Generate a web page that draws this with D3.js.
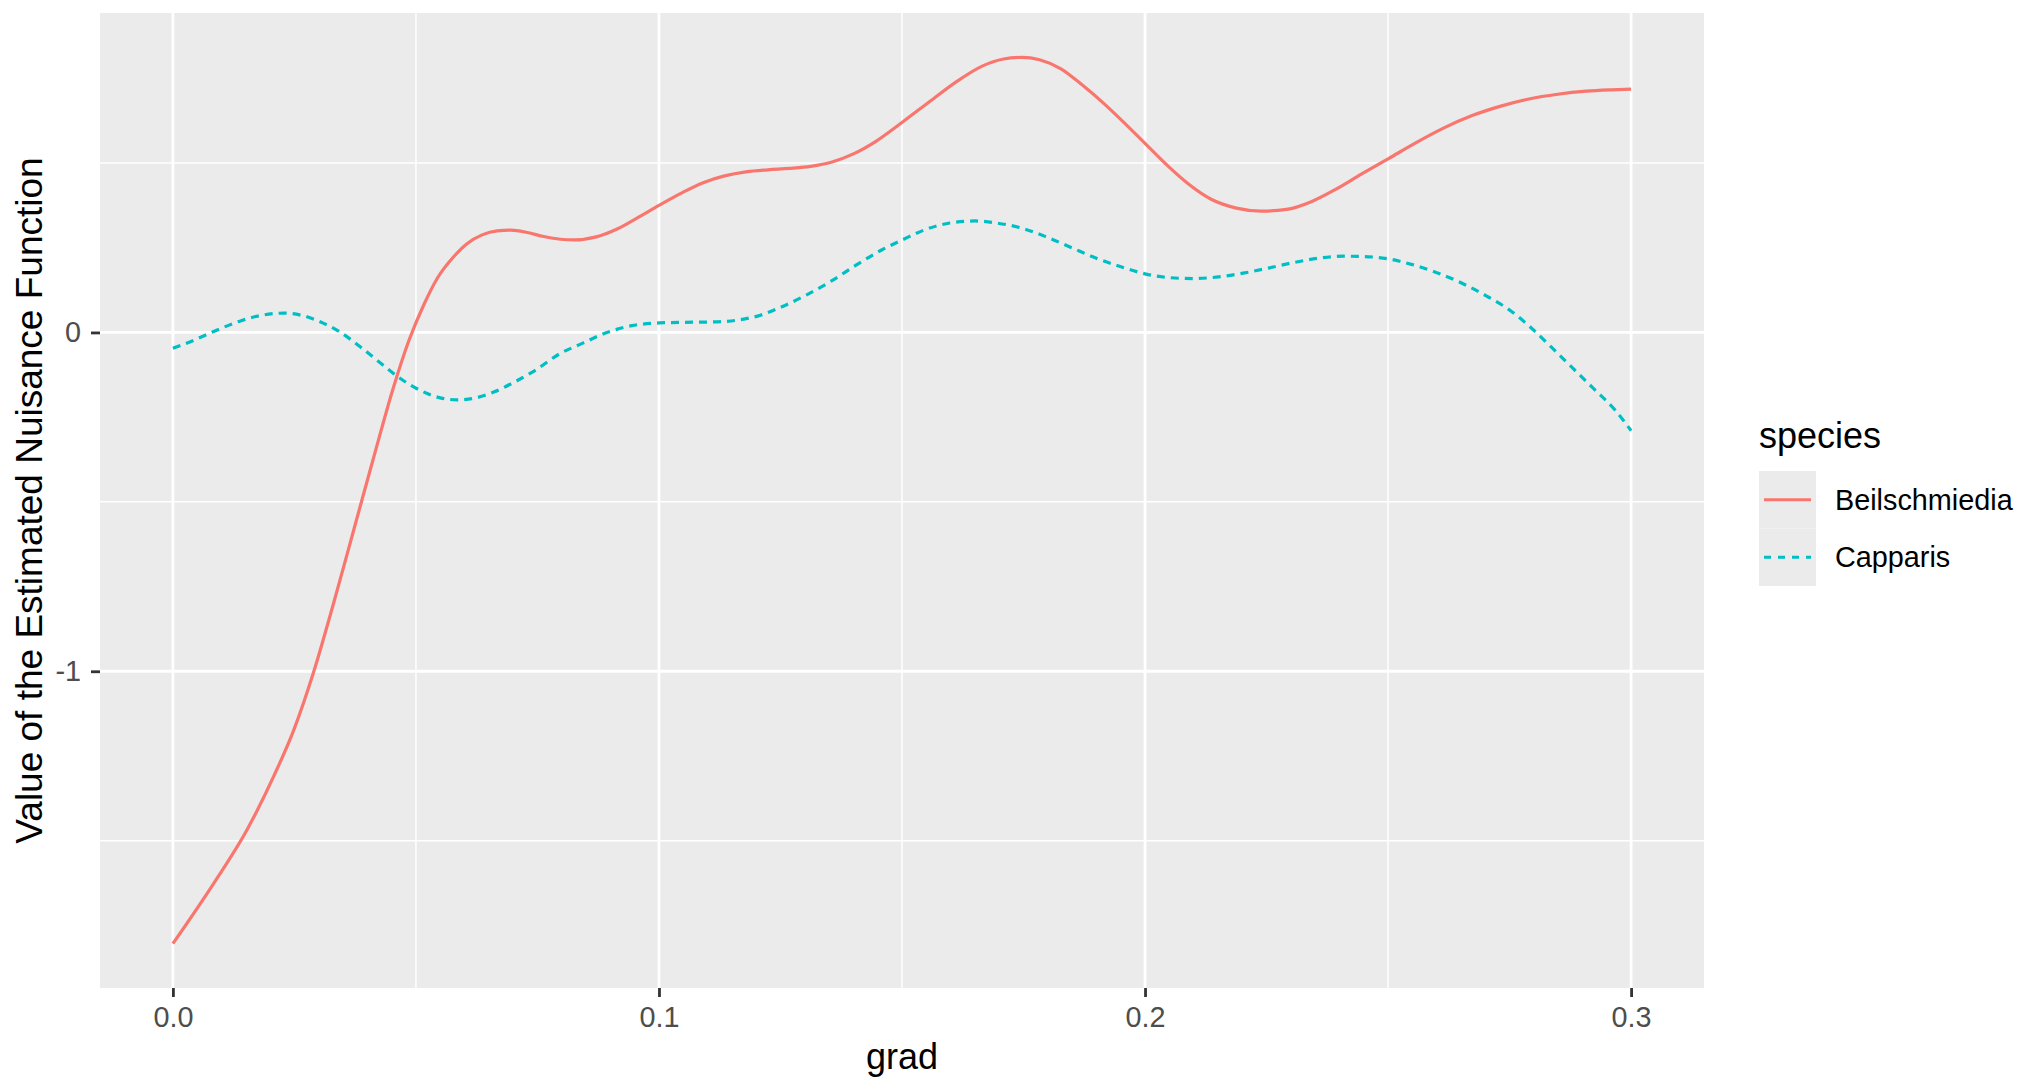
<!DOCTYPE html>
<html>
<head>
<meta charset="utf-8">
<script src="https://d3js.org/d3.v7.min.js"></script>
<style>
  body { margin: 0; background: #ffffff; }
  text { font-family: "Liberation Sans", Arial, Helvetica, sans-serif; }
</style>
</head>
<body>
<div id="my_dataviz"></div>
<script>
// values
var gradBeil = [0,0.0094,0.0152,0.0207,0.0248,0.029,0.0331,0.0372,0.0413,0.0454,0.0485,0.0516,0.0544,0.0578,0.0605,0.0636,0.0667,0.0695,0.0729,0.0763,0.0797,0.0826,0.0871,0.0915,0.0959,0.1,0.1047,0.1091,0.1135,0.1179,0.1224,0.1268,0.1312,0.1356,0.14,0.1444,0.1502,0.1562,0.1613,0.1665,0.1709,0.1746,0.1783,0.1827,0.1871,0.1915,0.1952,0.2,0.2048,0.2092,0.2136,0.2188,0.2239,0.2291,0.2342,0.2393,0.2445,0.2501,0.2555,0.2614,0.2673,0.2732,0.279,0.2849,0.2908,0.296,0.3];
var valBeil = [-1.804,-1.604,-1.469,-1.311,-1.176,-1.0,-0.797,-0.583,-0.369,-0.161,-0.026,0.081,0.16,0.224,0.262,0.288,0.300,0.302,0.295,0.283,0.275,0.273,0.282,0.306,0.341,0.375,0.412,0.442,0.462,0.474,0.48,0.484,0.49,0.503,0.527,0.562,0.622,0.687,0.741,0.786,0.807,0.812,0.805,0.778,0.73,0.676,0.626,0.558,0.49,0.435,0.393,0.367,0.358,0.363,0.386,0.423,0.467,0.513,0.558,0.603,0.64,0.668,0.689,0.703,0.712,0.716,0.718];

var gradCapp = [0,0.0043,0.0084,0.0139,0.018,0.0228,0.0269,0.0304,0.0345,0.0386,0.0427,0.0468,0.0509,0.055,0.0585,0.062,0.066,0.0702,0.0743,0.0797,0.0841,0.0893,0.0944,0.1,0.1054,0.1113,0.1165,0.1209,0.1253,0.1304,0.1356,0.1407,0.1459,0.1502,0.1547,0.1598,0.165,0.1694,0.1746,0.1797,0.1849,0.19,0.1952,0.2,0.2048,0.2099,0.2151,0.2202,0.2254,0.2305,0.2357,0.2408,0.2452,0.2501,0.2548,0.2599,0.2651,0.2702,0.2754,0.2791,0.2835,0.2879,0.2923,0.2967,0.3];
var valCapp = [-0.047,-0.023,0.003,0.034,0.05,0.057,0.049,0.031,0.0,-0.043,-0.09,-0.136,-0.171,-0.193,-0.199,-0.194,-0.176,-0.147,-0.114,-0.062,-0.033,0.0,0.02,0.028,0.03,0.031,0.037,0.051,0.076,0.111,0.153,0.2,0.244,0.274,0.303,0.323,0.329,0.323,0.308,0.282,0.25,0.219,0.193,0.173,0.162,0.159,0.164,0.175,0.19,0.206,0.219,0.225,0.224,0.217,0.201,0.177,0.146,0.108,0.062,0.018,-0.042,-0.104,-0.166,-0.229,-0.29];

var species = ["Beilschmiedia","Capparis"];
var colors = ["#F8766D","#00BFC4"];
var dashes = [null,"8,6"];

var xMajor = [0,0.1,0.2,0.3];
var xMinor = [0.05,0.15,0.25];
var yMajor = [-1,0];
var yMinor = [-1.5,-0.5,0.5];

function combine(x_arr,y_arr){
  var combined = [];
  for(let i = 0; i < x_arr.length; i++){
    combined.push([x_arr[i],y_arr[i]]);
  }
  return combined;
}
var series = [combine(gradBeil,valBeil), combine(gradCapp,valCapp)];

// ggplot style 5% expansion
function expand(ext){
  var d = (ext[1]-ext[0])*0.05;
  return [ext[0]-d, ext[1]+d];
}

var W = 2036, H = 1092;
var panel = {left: 100, right: 1704, top: 13, bottom: 988};

var svg = d3.select('#my_dataviz')
  .append('svg')
  .attr('width', W)
  .attr('height', H);

svg.append("rect")
  .attr("width", W).attr("height", H)
  .attr("fill", "#ffffff");

var x = d3.scaleLinear()
  .domain(expand(d3.extent(gradBeil.concat(gradCapp))))
  .range([panel.left, panel.right]);

var y = d3.scaleLinear()
  .domain(expand(d3.extent(valBeil.concat(valCapp))))
  .range([panel.bottom, panel.top]);

svg.append("rect")
  .attr("x", panel.left)
  .attr("y", panel.top)
  .attr("width", panel.right - panel.left)
  .attr("height", panel.bottom - panel.top)
  .attr("fill", "#EBEBEB");

// grid
var grid = svg.append("g");
grid.selectAll(".xminor").data(xMinor).enter().append("line")
  .attr("x1", d => x(d)).attr("x2", d => x(d))
  .attr("y1", panel.top).attr("y2", panel.bottom)
  .attr("stroke", "#ffffff").attr("stroke-width", 1.5);
grid.selectAll(".yminor").data(yMinor).enter().append("line")
  .attr("y1", d => y(d)).attr("y2", d => y(d))
  .attr("x1", panel.left).attr("x2", panel.right)
  .attr("stroke", "#ffffff").attr("stroke-width", 1.5);
grid.selectAll(".xmajor").data(xMajor).enter().append("line")
  .attr("x1", d => x(d)).attr("x2", d => x(d))
  .attr("y1", panel.top).attr("y2", panel.bottom)
  .attr("stroke", "#ffffff").attr("stroke-width", 2.8);
grid.selectAll(".ymajor").data(yMajor).enter().append("line")
  .attr("y1", d => y(d)).attr("y2", d => y(d))
  .attr("x1", panel.left).attr("x2", panel.right)
  .attr("stroke", "#ffffff").attr("stroke-width", 2.8);

// lines
var line = d3.line()
  .x(d => x(d[0]))
  .y(d => y(d[1]))
  .curve(d3.curveMonotoneX);

for(let i = 0; i < series.length; i++){
  svg.append("path")
    .attr("d", line(series[i]))
    .attr("fill", "none")
    .attr("stroke", colors[i])
    .attr("stroke-width", 3.2)
    .attr("stroke-dasharray", dashes[i]);
}

// axes
var xAxis = svg.append("g")
  .attr("transform", "translate(0," + panel.bottom + ")")
  .call(d3.axisBottom(x).tickValues(xMajor).tickFormat(d3.format(".1f")).tickSize(9).tickPadding(10));
var yAxis = svg.append("g")
  .attr("transform", "translate(" + panel.left + ",0)")
  .call(d3.axisLeft(y).tickValues(yMajor).tickFormat(d => String(d)).tickSize(9).tickPadding(10));

[xAxis, yAxis].forEach(function(a){
  a.select(".domain").remove();
  a.selectAll(".tick line").attr("stroke", "#333333").attr("stroke-width", 2.8);
  a.selectAll(".tick text")
    .attr("fill", "#4D4D4D")
    .style("font-size", "28.8px")
    .style("font-family", "'Liberation Sans', Arial, sans-serif");
});

svg.append("text")
  .attr("x", (panel.left + panel.right)/2)
  .attr("y", 1069)
  .attr("text-anchor", "middle")
  .style("font-size", "36px")
  .text("grad");

svg.append("text")
  .attr("transform", "translate(42," + ((panel.top + panel.bottom)/2) + ") rotate(-90)")
  .attr("text-anchor", "middle")
  .style("font-size", "37px")
  .text("Value of the Estimated Nuisance Function");

// legend
var legend = svg.append("g").attr("transform", "translate(1759,0)");
legend.append("text")
  .attr("x", 0).attr("y", 448)
  .style("font-size", "36px")
  .text("species");

var keyH = 57.5, keyTop = 471;
for(let i = 0; i < species.length; i++){
  var ky = keyTop + i*keyH;
  legend.append("rect")
    .attr("x", 0).attr("y", ky)
    .attr("width", 57).attr("height", keyH)
    .attr("fill", "#EBEBEB");
  legend.append("line")
    .attr("x1", 5).attr("x2", 52)
    .attr("y1", ky + keyH/2).attr("y2", ky + keyH/2)
    .attr("stroke", colors[i])
    .attr("stroke-width", 3.2)
    .attr("stroke-dasharray", dashes[i] ? "7,7" : null);
  legend.append("text")
    .attr("x", 76).attr("y", ky + keyH/2 + 10)
    .style("font-size", "28.8px")
    .text(species[i]);
}
</script>
</body>
</html>
